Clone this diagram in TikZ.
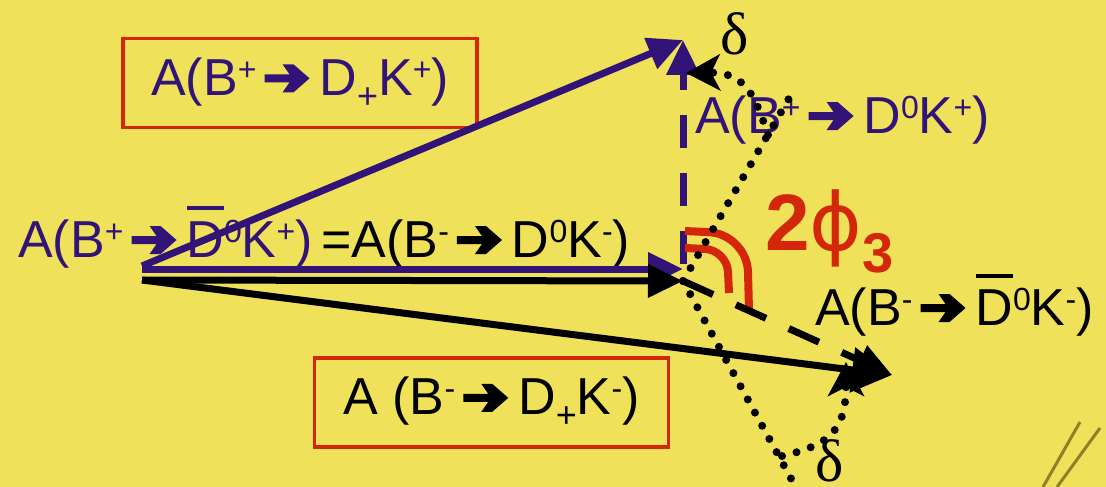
\documentclass[tikz,border=0pt]{standalone}
\usepackage{fontspec}
\setmainfont{Liberation Sans}
\newfontfamily\symfont{DejaVu Sans}
\newfontfamily\deltafont{Liberation Serif}
\usetikzlibrary{arrows.meta}
\definecolor{ampblue}{RGB}{50,20,120}
\definecolor{boxred}{RGB}{212,38,10}
\definecolor{slideyellow}{RGB}{240,225,90}
\definecolor{streak}{RGB}{140,128,40}

% small raised / lowered charges
\newcommand{\sps}[1]{\raisebox{15pt}{\fontsize{32}{32}\selectfont #1}}
\newcommand{\sbs}[1]{\raisebox{-13pt}{\fontsize{36}{36}\selectfont #1}}
% heavy decay arrow
\newcommand{\decarrow}{\hspace{8pt}\tikz[x=1pt,y=1pt,baseline=0pt]\fill (0,13) -- (25,13) -- (18,3) -- (29,3) -- (45,17) -- (29,31) -- (18,31) -- (25,21) -- (0,21) -- cycle;\hspace{10pt}}
\newcommand{\Dbar}{\rlap{\rule[0.9em]{0.72em}{0.09em}}D}

\begin{document}
\begin{tikzpicture}[x=1pt,y=-1pt,
    amp/.style={font=\fontsize{52}{52}\selectfont, inner sep=0pt, anchor=base west},
    ampbox/.style={draw=boxred, line width=3.5pt, minimum width=354pt, minimum height=89pt,
        inner sep=0pt, font=\fontsize{52}{52}\selectfont},
    vec/.style={line width=7pt, -{Triangle[length=35pt,width=32pt]}},
    dots/.style={line width=8pt, line cap=round, dash pattern=on 0pt off 15pt},
    dotarrow/.style={dots, -{Stealth[length=34pt,width=36pt,inset=9pt]}}]

    % 1. background of the slide
    \fill[slideyellow] (0,0) rectangle (1106,487);
    \useasboundingbox (0,0) rectangle (1106,487);
    \draw[streak, line width=3pt] (1043,487) -- (1080,422);
    \draw[streak, line width=3pt] (1057,487) -- (1100,428);

    % 2. end points of the amplitudes
    \coordinate (oblue) at (142,266);
    \coordinate (oblue2) at (142,269);
    \coordinate (oblack) at (142,280);
    \coordinate (ptop) at (683,40);
    \coordinate (pmid) at (683,269);
    \coordinate (pmidk) at (683,281);
    \coordinate (pdash) at (683,264);
    \coordinate (pfar) at (892,375);
    \coordinate (dottop) at (795,88);
    \coordinate (dotbot) at (800,495);
    \coordinate (bendtop) at (768,135);
    \coordinate (bendbot) at (782,456);
    \coordinate (tipdtop) at (686,73);
    \coordinate (tipdbot) at (846,362);

    % 3. labels
    \node (eqamp) at (18,257) [amp] {\textcolor{ampblue}{A(B\sps{+}\decarrow\Dbar\sps{0}K\sps{+})}\,=A(B\sps{-}\decarrow D\sps{0}K\sps{-})};
    \node (plusbox) at (300,83) [ampbox, text=ampblue] {A(B\sps{+}\decarrow D\sbs{+}K\sps{+})};
    \node (minusbox) at (491.5,402.5) [ampbox] {A (B\sps{-}\decarrow D\sbs{+}K\sps{-})};
    \node (dplus) at (695,133) [amp, text=ampblue] {A(B\sps{+}\decarrow D\sps{0}K\sps{+})};
    \node (dminus) at (815,325) [amp] {A(B\sps{-}\decarrow\Dbar\sps{0}K\sps{-})};
    \node (phi) at (765,250) [anchor=base west, inner sep=0pt, text=boxred,
        font=\fontsize{80}{80}\selectfont\bfseries] {2{\symfont\mdseries ϕ}\raisebox{-22pt}{\fontsize{56}{56}\selectfont 3}};
    \node (deltatop) at (720,55) [anchor=base west, inner sep=0pt, font=\fontsize{60}{60}\selectfont\deltafont] {δ};
    \node (deltabot) at (815,481) [anchor=base west, inner sep=0pt, font=\fontsize{60}{60}\selectfont\deltafont] {δ};

    % 4. dashed rotated amplitudes
    \draw[vec, ampblue, dash pattern=on 33pt off 25pt] (pdash) -- (ptop);

    % 5. the angle 2phi3
    \draw[boxred, line width=8pt, rounded corners=38pt] (685,231) -- (747,234) -- (749,310);
    \draw[boxred, line width=8pt, rounded corners=22pt] (685,248) -- (727,250) -- (729,293);

    \draw[vec, black, dash pattern=on 33pt off 25pt] (pmidk) -- (pfar);

    % 6. dotted strong phase lines
    \draw[dots] (pmidk) -- (dottop);
    \draw[dots] (pmidk) -- (dotbot);
    \draw[dotarrow] (bendtop) .. controls (755,95) and (745,72) .. (tipdtop);
    \draw[dotarrow] (bendbot) .. controls (830,445) and (846,430) .. (tipdbot);

    % 7. solid amplitudes
    \draw[vec, ampblue] (oblue) -- (ptop);
    \draw[vec, ampblue] (oblue2) -- (pmid);
    \draw[vec, black] (oblack) -- (pmidk);
    \draw[vec, black, -{Triangle[length=40pt,width=44pt]}] (oblack) -- (pfar);

\end{tikzpicture}
\end{document}
